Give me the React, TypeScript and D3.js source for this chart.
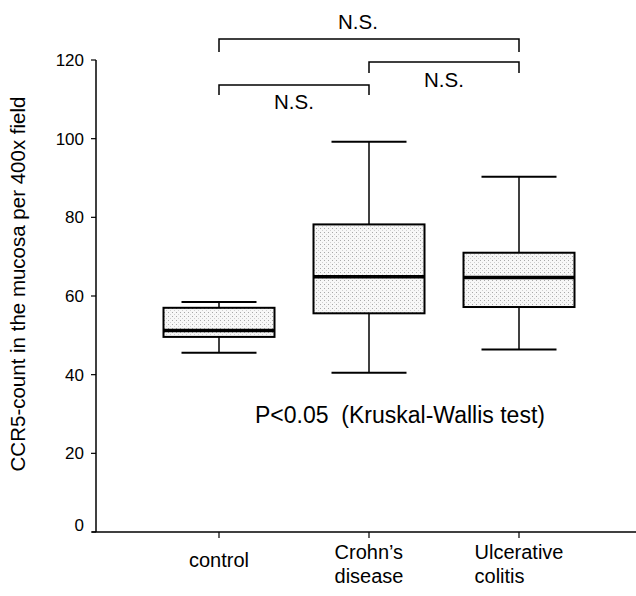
import * as d3 from "d3"
import { useEffect, useRef } from "react"

// categories and box stats
const groups = ["control", "Crohn's disease", "Ulcerative colitis"]
const groupLines = [["control"], ["Crohn\u2019s", "disease"], ["Ulcerative", "colitis"]]
const whiskerLow = [45.6, 40.5, 46.4]
const q1 = [49.6, 55.6, 57.2]
const median = [51.2, 64.9, 64.7]
const q3 = [57.0, 78.2, 71.0]
const whiskerHigh = [58.5, 99.2, 90.3]
const yTicks = [0, 20, 40, 60, 80, 100, 120]

// significance brackets between groups (index), stacked by level
const brackets = [
    { from: 0, to: 2, level: 0, label: "N.S." },
    { from: 1, to: 2, level: 1, label: "N.S." },
    { from: 0, to: 1, level: 2, label: "N.S." },
]

const width = 636
const height = 596
const font = "'Liberation Sans', Arial, sans-serif"

export default function App() {
    const labelRef = useRef<SVGGElement>(null)

    const y = d3.scaleLinear([0, 120], [532, 60])
    const x = d3.scaleBand(groups, [144, 594]).padding(0)
    const cx = (i: number) => x(groups[i])! + x.bandwidth() / 2
    const boxW = x.bandwidth() * 0.74
    const capW = x.bandwidth() * 0.5
    const axisX = 96

    // multi-line labels: lines left aligned, block centred on the tick
    useEffect(() => {
        if (!labelRef.current) return
        d3.select(labelRef.current).selectAll<SVGTextElement, unknown>("text").each(function () {
            const t = d3.select(this)
            const spans = t.selectAll<SVGTSpanElement, unknown>("tspan").nodes()
            if (spans.length < 2) return
            const w = d3.max(spans, s => s.getComputedTextLength()) || 0
            const c = +t.attr("data-cx")
            t.attr("text-anchor", "start").selectAll("tspan").attr("x", c - w / 2)
        })
    }, [])

    // bracket geometry: horizontal y, drop length, label baseline, label shift
    const bracketY = [39, 62, 85]
    const bracketDrop = [13, 11, 10]
    const labelY = [29, 87, 109]
    const labelShift = [-11, 0, 0]

    return (
        <div style={{ position: "absolute", left: 0, top: 0 }}>
            <svg width={width} height={height} style={{ display: "block", background: "#fff" }}>
                <defs>
                    <pattern id="stipple" width="4" height="4" patternUnits="userSpaceOnUse">
                        <rect width="4" height="4" fill="#f7f7f7" />
                        <rect x="0" y="0" width="1" height="1" fill="#a8a8a8" />
                        <rect x="2" y="2" width="1" height="1" fill="#cfcfcf" />
                    </pattern>
                </defs>

                {/* y axis */}
                <line x1={axisX} x2={axisX} y1={y(120)} y2={y(0)} stroke="#000" strokeWidth={1.5} />
                {yTicks.map(t => (
                    <g key={t}>
                        <line x1={axisX - 5} x2={axisX} y1={y(t)} y2={y(t)} stroke="#000" strokeWidth={1.2} />
                        <text x={axisX - 12} y={y(t) - (t === 0 ? 7 : 0)} dy="0.36em" textAnchor="end"
                            fontFamily={font} fontSize={17}>{t}</text>
                    </g>
                ))}
                <text transform={`translate(25, ${(y(0) + y(120)) / 2 - 12}) rotate(-90)`}
                    textAnchor="middle" fontFamily={font} fontSize={20.5}>
                    CCR5-count in the mucosa per 400x field
                </text>

                {/* x axis */}
                <line x1={axisX - 4} x2={width} y1={y(0)} y2={y(0)} stroke="#000" strokeWidth={1.5} />
                {groups.map((g, i) => (
                    <line key={g} x1={cx(i)} x2={cx(i)} y1={y(0)} y2={y(0) + 6} stroke="#000" strokeWidth={1.2} />
                ))}
                <g ref={labelRef}>
                    {groupLines.map((lines, i) => (
                        <text key={i} data-cx={cx(i)} y={lines.length > 1 ? 559 : 567}
                            textAnchor="middle" fontFamily={font} fontSize={20}>
                            {lines.map((l, j) => (
                                <tspan key={j} x={cx(i)} dy={j === 0 ? 0 : 24}>{l}</tspan>
                            ))}
                        </text>
                    ))}
                </g>

                {/* boxes */}
                {groups.map((g, i) => (
                    <g key={g}>
                        <line x1={cx(i)} x2={cx(i)} y1={y(whiskerHigh[i])} y2={y(q3[i])} stroke="#000" strokeWidth={1.5} />
                        <line x1={cx(i)} x2={cx(i)} y1={y(q1[i])} y2={y(whiskerLow[i])} stroke="#000" strokeWidth={1.5} />
                        <line x1={cx(i) - capW / 2} x2={cx(i) + capW / 2} y1={y(whiskerHigh[i])} y2={y(whiskerHigh[i])} stroke="#000" strokeWidth={2} />
                        <line x1={cx(i) - capW / 2} x2={cx(i) + capW / 2} y1={y(whiskerLow[i])} y2={y(whiskerLow[i])} stroke="#000" strokeWidth={2} />
                        <rect x={cx(i) - boxW / 2} width={boxW} y={y(q3[i])} height={y(q1[i]) - y(q3[i])}
                            fill="url(#stipple)" stroke="#000" strokeWidth={2} />
                        <line x1={cx(i) - boxW / 2} x2={cx(i) + boxW / 2} y1={y(median[i])} y2={y(median[i])} stroke="#000" strokeWidth={3.5} />
                    </g>
                ))}

                {/* brackets */}
                {brackets.map((b, k) => {
                    const yy = bracketY[b.level]
                    const x1 = cx(b.from), x2 = cx(b.to)
                    return (
                        <g key={k}>
                            <path d={`M${x1},${yy + bracketDrop[b.level]}V${yy}H${x2}V${yy + bracketDrop[b.level]}`}
                                fill="none" stroke="#000" strokeWidth={1.5} />
                            <text x={(x1 + x2) / 2 + labelShift[b.level]} y={labelY[b.level]} textAnchor="middle"
                                fontFamily={font} fontSize={20.5}>{b.label}</text>
                        </g>
                    )
                })}

                <text x={255} y={423} fontFamily={font} fontSize={23} xmlSpace="preserve">
                    P&lt;0.05  (Kruskal-Wallis test)
                </text>
            </svg>
        </div>
    )
}
